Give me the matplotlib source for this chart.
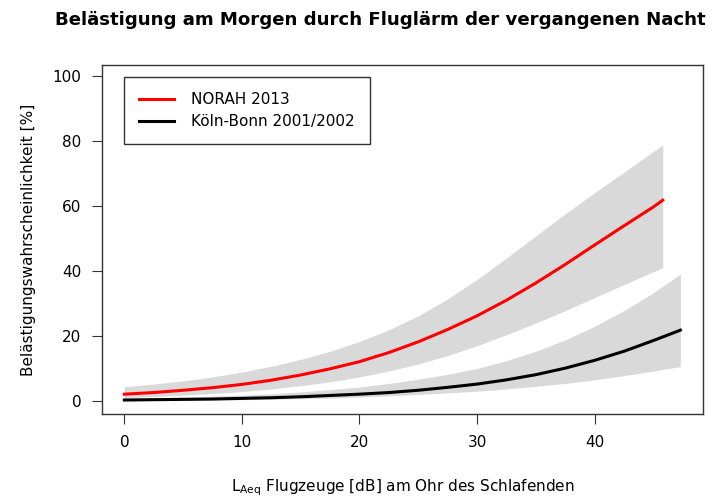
import matplotlib
matplotlib.use("Agg")
import matplotlib.pyplot as plt

# NORAH 2013 (red)
x_norah = [0, 2.5, 5, 7.5, 10, 12.5, 15, 17.5, 20, 22.5, 25, 27.5, 30, 32.5, 35, 37.5, 40, 42.5, 45, 45.8]
y_norah = [2.1, 2.6, 3.3, 4.1, 5.1, 6.4, 8.0, 9.9, 12.1, 14.9, 18.2, 22.0, 26.2, 31.0, 36.3, 42.0, 48.0, 53.9, 59.7, 61.8]
lo_norah = [1.1, 1.4, 1.8, 2.3, 2.9, 3.7, 4.7, 5.9, 7.4, 9.2, 11.4, 14.0, 17.0, 20.4, 24.0, 27.8, 31.8, 35.8, 39.8, 41.0]
hi_norah = [4.4, 5.2, 6.2, 7.4, 8.9, 10.7, 12.8, 15.3, 18.3, 21.9, 26.2, 31.4, 37.4, 44.0, 50.8, 57.6, 64.1, 70.4, 76.8, 78.8]

# Koeln-Bonn 2001/2002 (black)
x_kb = [0, 2.5, 5, 7.5, 10, 12.5, 15, 17.5, 20, 22.5, 25, 27.5, 30, 32.5, 35, 37.5, 40, 42.5, 45, 47.3]
y_kb = [0.3, 0.4, 0.5, 0.6, 0.8, 1.0, 1.3, 1.7, 2.1, 2.6, 3.3, 4.2, 5.2, 6.5, 8.1, 10.1, 12.5, 15.3, 18.6, 21.8]
lo_kb = [0.1, 0.15, 0.2, 0.3, 0.4, 0.55, 0.7, 0.9, 1.2, 1.6, 2.0, 2.5, 3.0, 3.7, 4.5, 5.4, 6.5, 7.8, 9.2, 10.6]
hi_kb = [0.8, 1.0, 1.2, 1.5, 1.8, 2.2, 2.8, 3.5, 4.3, 5.4, 6.7, 8.2, 10.0, 12.4, 15.3, 18.8, 23.0, 27.8, 33.3, 39.1]

x_ticks = [0, 10, 20, 30, 40]
y_ticks = [0, 20, 40, 60, 80, 100]

plt.rcParams['font.family'] = ['DejaVu Sans']

fig = plt.figure(figsize=(7.27, 4.98), dpi=100)
ax = fig.add_axes([0.1403, 0.1687, 0.8263, 0.7008])

band = '#D9D9D9'
ax.fill_between(x_norah, lo_norah, hi_norah, color=band, lw=0)
ax.fill_between(x_kb, lo_kb, hi_kb, color=band, lw=0)
ax.plot(x_norah, y_norah, color='red', lw=2.2, label='NORAH 2013')
ax.plot(x_kb, y_kb, color='black', lw=2.2, label='Köln-Bonn 2001/2002')

ax.set_xlim(-1.9, 49.2)
ax.set_ylim(-4, 103.4)
ax.set_xticks(x_ticks)
ax.set_yticks(y_ticks)
ax.tick_params(direction='out', length=7, width=0.8, color='#333333', labelsize=11, pad=8)
for s in ax.spines.values():
    s.set_color('#333333')
    s.set_linewidth(1.0)

ax.set_xlabel(r'L$_{\mathregular{Aeq}}$ Flugzeuge [dB] am Ohr des Schlafenden', fontsize=11, labelpad=20)
ax.set_ylabel('Belästigungswahrscheinlichkeit [%]', fontsize=11, labelpad=12)

leg = ax.legend(loc='upper left', bbox_to_anchor=(0.0366, 0.9656), borderaxespad=0,
                fancybox=False, framealpha=1, edgecolor='#333333', fontsize=11,
                handlelength=2.3, handletextpad=1.1, borderpad=1.0, labelspacing=0.45)
leg.get_frame().set_linewidth(1.0)

fig.text(55 / 727, 0.96, 'Belästigung am Morgen durch Fluglärm der vergangenen Nacht',
         ha='left', va='center', fontsize=13.1, fontweight='bold')

fig.savefig('out.png', dpi=100)
